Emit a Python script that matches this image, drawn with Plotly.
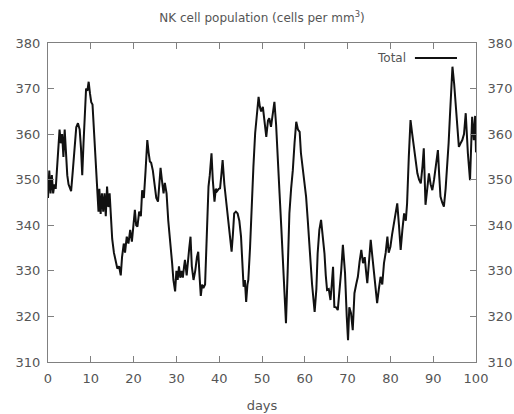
import plotly.graph_objects as go

# NK cell counts over the simulated period
days = [
    0.0, 0.3, 0.6, 0.9, 1.2, 1.5, 1.8, 2.1, 2.4, 2.7, 3.0, 3.3, 3.6, 3.9, 4.2, 4.5, 4.8,
    5.1, 5.4, 5.8, 6.2, 6.6, 7.0, 7.4, 7.7, 8.0, 8.3, 8.6, 8.9, 9.2, 9.5, 9.8, 10.1,
    10.4, 10.8, 11.2, 11.5, 11.8, 12.0, 12.3, 12.6, 12.9, 13.2, 13.5, 13.8, 14.1, 14.4,
    14.7, 15.0, 15.4, 15.8, 16.2, 16.6, 17.0, 17.3, 17.7, 18.0, 18.4, 18.8, 19.2, 19.6,
    20.0, 20.3, 20.6, 20.9, 21.3, 21.7, 22.0, 22.4, 22.8, 23.2, 23.5, 23.8, 24.1, 24.5,
    24.9, 25.3, 25.7, 26.0, 26.3, 26.6, 27.0, 27.3, 27.7, 28.1, 28.5, 28.8, 29.0, 29.3,
    29.7, 30.0, 30.3, 30.6, 30.9, 31.2, 31.5, 31.8, 32.0, 32.4, 32.7, 33.0, 33.3, 33.6,
    34.0, 34.4, 34.8, 35.1, 35.4, 35.7, 36.0, 36.3, 36.7, 37.0, 37.3, 37.5, 37.8, 38.2,
    38.5, 38.9, 39.2, 39.5, 39.9, 40.2, 40.5, 40.8, 41.2, 41.8, 42.3, 42.9, 43.2, 43.5,
    43.9, 44.3, 44.7, 45.1, 45.4, 45.7, 46.0, 46.3, 46.6, 46.8, 47.2, 47.6, 48.0, 48.4,
    48.8, 49.2, 49.5, 49.8, 50.2, 50.6, 51.0, 51.4, 51.7, 52.1, 52.5, 52.9, 53.3, 53.7,
    54.1, 54.5, 55.0, 55.6, 56.0, 56.4, 56.8, 57.2, 57.6, 58.0, 58.4, 58.8, 59.1, 59.7,
    60.3, 60.7, 61.1, 61.7, 62.3, 62.7, 63.0, 63.4, 63.8, 64.2, 64.6, 64.9, 65.2, 65.6,
    66.0, 66.3, 66.6, 66.9, 67.3, 67.7, 68.1, 68.5, 68.9, 69.4, 69.8, 70.1, 70.4, 70.8,
    71.2, 71.6, 72.0, 72.4, 72.8, 73.2, 73.6, 74.0, 74.3, 74.6, 75.0, 75.4, 75.8, 76.3,
    76.6, 76.9, 77.3, 77.7, 78.1, 78.5, 78.9, 79.3, 79.6, 80.0, 80.4, 80.8, 81.2, 81.6,
    82.0, 82.4, 82.8, 83.2, 83.6, 83.9, 84.3, 84.7, 85.1, 85.5, 85.9, 86.3, 86.7, 87.1,
    87.5, 87.8, 88.2, 88.6, 89.0, 89.4, 89.8, 90.2, 90.6, 91.1, 91.4, 91.7, 92.1, 92.5,
    92.9, 93.3, 93.6, 93.9, 94.2, 94.5, 94.9, 95.2, 95.6, 96.0, 96.4, 96.8, 97.2, 97.6,
    98.1, 98.6, 99.1, 99.5, 99.8, 100.0,
]
total = [
    346, 352, 347, 351, 347, 349, 348, 353, 357, 361, 358, 360, 355, 361, 356, 351, 349,
    348, 347.5, 352, 358, 361.5, 362.4, 361, 357, 351, 358, 366, 370, 369.5, 371.5, 369, 367,
    366.5, 360, 352, 347, 343, 348, 342.5, 347, 343, 347, 342, 348.5, 344, 347,
    342, 337, 334, 332, 330.5, 331, 329, 333, 336, 334, 337.5, 336, 339, 336.4,
    341, 343.4, 340, 339.7, 343, 342, 347.7, 346, 352, 358.7, 356, 354, 353.7, 352,
    349, 346, 345.2, 350, 352.6, 350, 347, 349.3, 347, 341, 337.5, 334, 331.7, 328,
    325.5, 330, 328, 331, 328.5, 330, 328.5, 331, 332.4, 329, 333, 335, 337.5, 331,
    328, 330, 333, 334.2, 329, 324.5, 327, 326.2, 327, 335, 343, 348.5, 351, 355.8,
    350, 345.2, 348, 347.5, 348, 348.1, 351, 354.3, 349, 344.1, 339, 334.2, 338, 342.6,
    343, 342.6, 341, 337.5, 332, 326.5, 328, 323.2, 327, 328, 335, 345.5, 353, 360.2,
    365, 368.2, 366, 365, 366, 362, 359.4, 363, 363.5, 361.6, 364, 367.1, 362, 352.9,
    347, 339.7, 330, 318.5, 330, 342.6, 348, 352.1, 358, 362.7, 361, 360.5, 355.8, 351,
    346.3, 341, 335.3, 327, 321, 326, 333.8, 339, 341.2, 338, 333.8, 329, 325.8, 326,
    323.6, 327, 330.9, 322.1, 322, 321.4, 325, 330, 335.7, 329.5, 320, 314.8, 322, 320.7,
    317, 325.1, 327, 328.7, 332, 334.6, 331.7, 333, 330, 327.3, 332, 336.8, 333, 328,
    325, 322.9, 326, 328.7, 327, 331.7, 334, 337.5, 334, 335.3, 338, 340.4, 343, 344.8,
    340, 334.6, 339, 342.6, 341, 344.8, 355, 363.1, 360, 357.2, 354, 351.4, 350, 349.2,
    353, 356.9, 344.5, 348, 351.4, 349, 347.7, 350, 352.5, 356.5, 351, 346.3, 345, 344.1,
    348, 352.9, 358, 363.8, 370, 374.8, 371, 367.5, 362, 357.2, 358, 358.7, 360, 364.6,
    355.8, 349.9, 363.8, 358.7, 364, 356,
]

x_ticks = [0, 10, 20, 30, 40, 50, 60, 70, 80, 90, 100]
y_ticks = [310, 320, 330, 340, 350, 360, 370, 380]
y_range = [310, 380]

FONT = "DejaVu Sans"
TEXT = "#555555"
FRAME = "#808080"
LINE = "#111111"

fig = go.Figure()
fig.add_trace(go.Scatter(
    x=days, y=total, mode="lines", name="Total",
    line=dict(color=LINE, width=2), showlegend=False,
))
# hidden trace so the right-hand y axis gets drawn
fig.add_trace(go.Scatter(
    x=[days[0]], y=[total[0]], yaxis="y2", mode="lines",
    line=dict(width=0), showlegend=False, hoverinfo="skip",
))

axis_common = dict(
    showline=True, linecolor=FRAME, linewidth=1,
    ticks="inside", ticklen=6, tickcolor=FRAME, tickwidth=1,
    showgrid=False, zeroline=False, automargin=False,
    tickfont=dict(family=FONT, size=13, color=TEXT),
)

fig.update_layout(
    width=514, height=414,
    margin=dict(l=48, r=38, t=43, b=52),
    paper_bgcolor="white", plot_bgcolor="white",
    title=dict(
        text="NK cell population (cells per mm<sup>3</sup>)",
        x=0.5, xref="paper", xanchor="center",
        y=1 - 18 / 414, yanchor="middle",
        font=dict(family=FONT, size=12, color=TEXT),
    ),
    xaxis=dict(
        range=[0, 100], tickvals=x_ticks, mirror="ticks", ticklabelstandoff=4,
        title=dict(text="days", font=dict(family=FONT, size=13, color=TEXT), standoff=16),
        **axis_common,
    ),
    yaxis=dict(
        range=y_range, tickvals=y_ticks, mirror="ticks", ticklabelstandoff=4,
        **axis_common,
    ),
    # right-hand labels only; its (transparent) ticks just set the label gap
    yaxis2=dict(
        range=y_range, tickvals=y_ticks, overlaying="y", side="right",
        showline=False, ticks="outside", ticklen=8, tickcolor="rgba(0,0,0,0)",
        showgrid=False, zeroline=False, automargin=False,
        tickfont=dict(family=FONT, size=13, color=TEXT),
    ),
    showlegend=False,
)

# key in the top-right corner: label followed by a line sample
key_y = 1 - (58 - 43) / (362 - 43)
fig.add_annotation(
    x=(408 - 48.5) / (476 - 48.5), y=key_y,
    xref="x domain", yref="y domain", text="Total", showarrow=False,
    xanchor="right", yanchor="middle",
    font=dict(family=FONT, size=12, color=TEXT),
)
fig.add_shape(
    type="line", xref="x domain", yref="y domain",
    x0=(415 - 48.5) / (476 - 48.5), x1=(457 - 48.5) / (476 - 48.5),
    y0=key_y, y1=key_y,
    line=dict(color=LINE, width=2),
)

fig.write_html("out.html")
